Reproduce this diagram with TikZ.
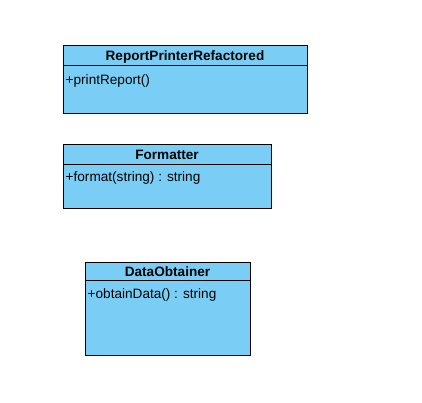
\documentclass[tikz,border=0pt]{standalone}
\usepackage{fontspec}
\setmainfont{Liberation Sans}
\definecolor{classfill}{RGB}{122,206,245}
\begin{document}
\begin{tikzpicture}[x=1pt,y=-1pt,
  classpart/.style={draw=black,fill=classfill,line width=0.9pt,rectangle,inner sep=0pt,outer sep=0pt,anchor=north west},
  classname/.style={font=\fontsize{13.6}{15}\selectfont\bfseries,inner sep=0pt,anchor=base},
  member/.style={font=\fontsize{13.6}{15}\selectfont,inner sep=0pt,anchor=base west}]
\useasboundingbox (0,0) rectangle (422,402);
% ReportPrinterRefactored
\node[classpart,minimum width=244pt,minimum height=20pt] (rph) at (63,45) {};
\node[classpart,minimum width=244pt,minimum height=48pt] (rpb) at (63,65) {};
\node[classname] (rpn) at (185,60.5) {ReportPrinterRefactored};
\node[member] (rpm) at (65.5,84) {+printReport()};
% Formatter
\node[classpart,minimum width=208pt,minimum height=20pt] (fh) at (63,144) {};
\node[classpart,minimum width=208pt,minimum height=44pt] (fb) at (63,164) {};
\node[classname] (fn) at (167,159) {Formatter};
\node[member] (fm) at (65.5,181.3) {+format(string) : string};
% DataObtainer
\node[classpart,minimum width=165pt,minimum height=18pt] (dh) at (85,262) {};
\node[classpart,minimum width=165pt,minimum height=75pt] (db) at (85,280) {};
\node[classname] (dn) at (167.5,276.5) {DataObtainer};
\node[member] (dm) at (87.5,298.3) {+obtainData() : string};
\end{tikzpicture}
\end{document}
